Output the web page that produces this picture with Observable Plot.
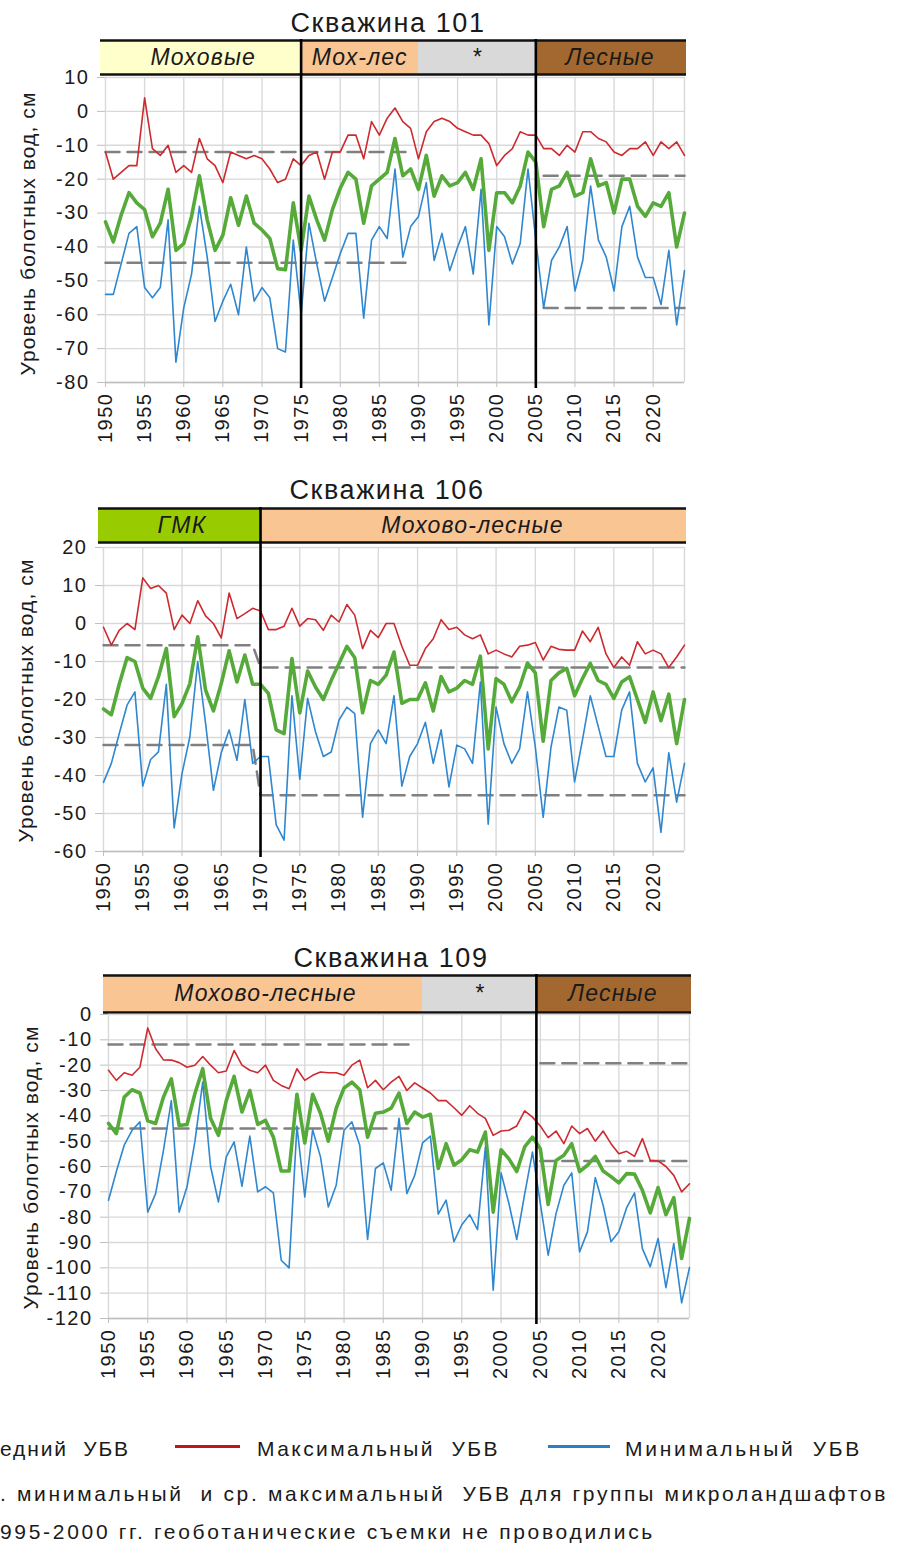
<!DOCTYPE html>
<html><head><meta charset="utf-8">
<script src="https://cdn.jsdelivr.net/npm/d3@7"></script>
<script src="https://cdn.jsdelivr.net/npm/@observablehq/plot@0.6"></script>
<style>
html,body{margin:0;padding:0;background:#fff;}
#root{position:relative;width:897px;height:1555px;overflow:hidden;background:#fff;font-family:"Liberation Sans",Arial,sans-serif;color:#1a1a1a;}
.txt{position:absolute;white-space:pre;display:inline-block;}
.sw{position:absolute;height:3px;}
</style></head><body><div id="root"></div>
<script>
// ---------------- DATA ----------------
const years = [1950,1951,1952,1953,1954,1955,1956,1957,1958,1959,
  1960,1961,1962,1963,1964,1965,1966,1967,1968,1969,
  1970,1971,1972,1973,1974,1975,1976,1977,1978,1979,
  1980,1981,1982,1983,1984,1985,1986,1987,1988,1989,
  1990,1991,1992,1993,1994,1995,1996,1997,1998,1999,
  2000,2001,2002,2003,2004,2005,2006,2007,2008,2009,
  2010,2011,2012,2013,2014,2015,2016,2017,2018,2019,
  2020,2021,2022,2023,2024];
const xTicks = [1950,1955,1960,1965,1970,1975,1980,1985,1990,1995,2000,2005,2010,2015,2020];

// Скважина 101
const w101Max = [-12,-20,-18,-16,-16,4,-11,-13,-10,-18,
  -16,-18,-8,-14,-16,-21,-12,-13,-14,-13,
  -14,-17,-21,-20,-14,-16,-13,-12,-20,-12,
  -12,-7,-7,-14,-3,-7,-2,1,-3,-5,
  -14,-6,-3,-2,-3,-5,-6,-7,-7,-9.5,
  -16,-13,-11,-6,-7,-7,-11,-11,-13,-10,
  -12,-6,-6,-8,-9,-12,-13,-11,-11,-9,
  -13,-9,-11,-9,-13];
const w101Mean = [-32.6,-38.5,-30.6,-24,-27,-29,-37,-33,-23,-41,
  -39,-31,-19,-32,-41,-36.5,-25.5,-33.6,-25,-33,
  -35,-37.5,-46.4,-46.7,-27,-41,-25,-32,-38,-29,
  -22.7,-18,-20,-33,-22,-20,-18,-8,-19,-17,
  -23,-13,-25,-19,-22,-21,-18,-23,-14,-41,
  -24,-24,-27,-22,-12,-15,-34,-23,-22,-18,
  -25,-24,-14,-22,-21,-30,-20,-20,-28,-31,
  -27,-28,-24,-40,-30];
const w101Min = [-54,-54,-45,-36,-34,-52,-55,-52,-32,-74,
  -58,-48,-28,-43,-62,-56,-51,-60,-40,-56,
  -52,-55,-70,-71,-38,-60,-33,-45,-56,-49,
  -42,-36,-36,-61,-38,-34,-37.5,-17,-43,-34,
  -31,-21,-44,-36,-47,-40,-34,-48,-23,-63,
  -34,-37,-45,-39,-17,-38,-58,-44,-40,-34,
  -53,-44,-22,-38,-43,-53,-34,-28,-43,-49,
  -49,-57,-41,-63,-47];
const w101Ticks = [10,0,-10,-20,-30,-40,-50,-60,-70,-80];
const w101BandLabels = ["Моховые","Мох-лес","*","Лесные"];
const w101BandStart = [1950,1975,1990,2005];
const w101BandEnd = [1975,1990,2005,2024];
const w101Dividers = [1975,2005];
const w101GroupStart = [1950,2006];
const w101GroupEnd = [1989,2024];
const w101GroupMax = [-12,-19];
const w101GroupMin = [-44.7,-58];

// Скважина 106
const w106Max = [-1,-5.7,-1.8,0,-1.6,12,9.2,10,8,-1.6,
  2.2,0,6,2,0,-3.8,8,1.3,2.6,4,
  3.3,-1.6,-1.6,-0.7,4,-0.7,1.3,1,-1.8,2.2,
  0.4,5,2.2,-6.6,-1.8,-3.7,0,0,-6,-11,
  -11,-6.6,-4,1,-1.6,-1,-3,-4,-3,-8,
  -7,-8,-8.8,-6,-5.7,-5,-9.6,-6,-6.8,-7,
  -7,-2,-4.8,-1,-8,-11.6,-8.8,-11,-4.8,-8,
  -7,-8,-11.6,-8.8,-5.7];
const w106Mean = [-22.5,-24,-16,-9,-10,-17,-19.7,-14,-6.6,-24.5,
  -21,-15.8,-3.5,-17.5,-23,-15.8,-7.2,-15.4,-8.3,-16,
  -16,-18.4,-28,-29,-9.2,-23.5,-12.5,-16.7,-20,-15,
  -10.5,-6,-9,-23.5,-15,-16,-13.6,-7.5,-21,-20,
  -20,-15.6,-23,-14,-18,-17,-15,-16,-8.6,-33,
  -14.5,-16,-20.6,-16.7,-10.4,-13,-31,-15,-13,-11.8,
  -19,-14.5,-10.5,-15,-16,-19.7,-15.4,-14,-20,-26,
  -18,-25.6,-18.6,-31.6,-20];
const w106Min = [-41.8,-36.8,-29,-21.5,-18,-42.8,-35.8,-33.8,-16,-53.8,
  -39.5,-29.8,-10,-26.3,-43.9,-34,-28,-36,-20,-36.8,
  -35,-35,-53,-57,-19,-41,-19.7,-28.5,-35,-33.8,
  -25.4,-22,-23.7,-51,-31.6,-28,-31.6,-19,-42.8,-35,
  -31.6,-26,-36.8,-28,-43,-32,-33,-36.8,-15.4,-52.8,
  -22,-31.6,-36.8,-33,-18,-32.5,-51,-32.5,-22,-22.8,
  -41.7,-30.7,-19,-27,-35,-35,-22.8,-18,-36.8,-41.7,
  -38,-55,-34,-47,-36.8];
const w106Ticks = [20,10,0,-10,-20,-30,-40,-50,-60];
const w106BandLabels = ["ГМК","Мохово-лесные"];
const w106BandStart = [1950,1970];
const w106BandEnd = [1970,2024];
const w106Dividers = [1970];
const w106GroupStart = [1950,1970];
const w106GroupEnd = [1969,2024];
const w106GroupMax = [-5.7,-11.6];
const w106GroupMin = [-32,-45.2];

// Скважина 109
const w109Max = [-22,-26,-23,-24,-20.8,-5.3,-13.5,-17.9,-18,-19,
  -20.8,-20,-16.6,-20,-23,-22.3,-14.2,-20,-22,-23,
  -20,-26,-28,-29.3,-21.4,-26,-24,-22.7,-23,-23,
  -24,-20,-18,-28.9,-26,-29.7,-26.7,-24.4,-30,-27,
  -29,-31,-34,-34,-36.8,-39.8,-36,-39,-41,-47.7,
  -46,-45.7,-44,-38,-40.5,-44,-48.6,-46,-51,-44,
  -47,-45,-50,-46,-51,-55,-54,-56,-49,-57.6,
  -57.8,-60,-63.5,-70,-66.8];
const w109Mean = [-43,-47,-32.6,-29.7,-31,-42,-43,-32.6,-25.4,-43.8,
  -43.4,-31.3,-21.4,-41,-47.7,-34,-24.4,-38.5,-30,-43.4,
  -41.8,-48.4,-61.8,-61.8,-31.5,-50.7,-31.5,-39,-50,-37,
  -29,-26.7,-29.7,-48.4,-39,-38.5,-37,-31,-43,-38.5,
  -40.5,-39.4,-60.8,-51,-59.5,-57.3,-53.4,-54.3,-46.4,-78,
  -53.4,-57,-62,-52.3,-48.4,-53,-75,-57.6,-55.6,-51,
  -62,-59.5,-56,-61.8,-64,-66.5,-62.8,-63,-69.4,-78.3,
  -68.3,-79,-72.3,-96.3,-80.5];
const w109Min = [-73.3,-62,-51.6,-45.7,-42.4,-78,-70.7,-53.6,-34,-78,
  -68,-50.3,-26.7,-60,-74,-56.2,-50.3,-67.8,-48,-70,
  -68,-70.4,-97,-100,-44,-72,-45.5,-56.2,-76,-67.4,
  -45.7,-42.4,-51.6,-88.8,-60.8,-58.6,-69.4,-41,-70.7,-63.5,
  -50.7,-48,-78.8,-73.3,-89.7,-83,-79,-84.9,-52.3,-108.8,
  -62.5,-74.6,-88.8,-71,-54.3,-74.6,-95,-78.6,-67.4,-62.5,
  -93.7,-85.8,-64.4,-75.3,-89.7,-85.8,-76.2,-70.4,-92.4,-99.6,
  -88.4,-107.8,-90.4,-113.8,-99.9];
const w109Ticks = [0,-10,-20,-30,-40,-50,-60,-70,-80,-90,-100,-110,-120];
const w109BandLabels = ["Мохово-лесные","*","Лесные"];
const w109BandStart = [1950,1990,2004.5];
const w109BandEnd = [1990,2004.5,2024];
const w109Dividers = [2004.5];
const w109GroupStart = [1950,2005];
const w109GroupEnd = [1989,2024];
const w109GroupMax = [-11.8,-19.2];
const w109GroupMin = [-45,-57.8];

const titles = ["Скважина 101","Скважина 106","Скважина 109"];
const yAxisLabel = "Уровень болотных вод, см";
const legendRow1 = ["едний  УБВ","Максимальный  УБВ","Минимальный  УБВ"];
const legendRow2 = ". минимальный  и ср. максимальный  УБВ для группы микроландшафтов";
const legendRow3 = "995-2000 гг. геоботанические съемки не проводились";

// ---------------- STYLE / LAYOUT ----------------
const bandColors = {"Моховые":"#FFFFCC","Мох-лес":"#F9C593","Мохово-лесные":"#F9C593","*":"#D9D9D9","Лесные":"#A2682F","ГМК":"#99CC00"};
const FONT = '"Liberation Sans", Arial, sans-serif';
const root = document.getElementById("root");

function placeText(text, {x, baseline, size, width, anchor = "start", italic = false}) {
  const el = document.createElement("div");
  el.className = "txt";
  el.textContent = text;
  el.style.fontSize = size + "px";
  el.style.lineHeight = size + "px";
  if (italic) el.style.fontStyle = "italic";
  root.appendChild(el);
  if (width) {
    const w = el.getBoundingClientRect().width;
    el.style.letterSpacing = ((width - w) / [...text].length) + "px";
  }
  const w2 = el.getBoundingClientRect().width;
  el.style.left = (anchor === "middle" ? x - w2 / 2 : x) + "px";
  el.style.top = (baseline - 0.8465 * size) + "px";
  return el;
}
function placeVertical(text, {cx, cy, size, length}) {
  const el = document.createElement("div");
  el.className = "txt";
  el.textContent = text;
  el.style.fontSize = size + "px";
  el.style.lineHeight = size + "px";
  root.appendChild(el);
  const w = el.getBoundingClientRect().width;
  el.style.letterSpacing = ((length - w) / [...text].length) + "px";
  const r = el.getBoundingClientRect();
  el.style.left = (cx - r.width / 2) + "px";
  el.style.top = (cy - r.height / 2) + "px";
  el.style.transform = "rotate(-90deg)";
}
function swatch(x1, x2, y, color) {
  const d = document.createElement("div");
  d.className = "sw";
  d.style.left = x1 + "px"; d.style.width = (x2 - x1) + "px";
  d.style.top = (y - 1.5) + "px"; d.style.background = color;
  root.appendChild(d);
}
function position(svg, top, extra) {
  svg.style.position = "absolute";
  svg.style.left = "0px";
  svg.style.top = top + "px";
  svg.style.overflow = "visible";
  svg.style.background = "transparent";
  svg.style.fontFamily = FONT;
  Object.assign(svg.style, extra || {});
  root.appendChild(svg);
}

const panels = [
  {title: titles[0], titleX: 388, titleBase: 33, bandTop: 40, bandBot: 74, plotTop: 77, plotBot: 382, left: 105, right: 684,
   yDomain: [-80, 10], yTicks: w101Ticks, ylabX: 27, ylabY: 233,
   max: w101Max, mean: w101Mean, min: w101Min,
   bandLabels: w101BandLabels, bandStart: w101BandStart, bandEnd: w101BandEnd, dividers: w101Dividers,
   gStart: w101GroupStart, gEnd: w101GroupEnd, gMax: w101GroupMax, gMin: w101GroupMin, connected: false},
  {title: titles[1], titleX: 387, titleBase: 500, bandTop: 508, bandBot: 542, plotTop: 547, plotBot: 851, left: 103, right: 684,
   yDomain: [-60, 20], yTicks: w106Ticks, ylabX: 25, ylabY: 700,
   max: w106Max, mean: w106Mean, min: w106Min,
   bandLabels: w106BandLabels, bandStart: w106BandStart, bandEnd: w106BandEnd, dividers: w106Dividers,
   gStart: w106GroupStart, gEnd: w106GroupEnd, gMax: w106GroupMax, gMin: w106GroupMin, connected: true},
  {title: titles[2], titleX: 391, titleBase: 968, bandTop: 975, bandBot: 1012, plotTop: 1014, plotBot: 1318, left: 108, right: 689,
   yDomain: [-120, 0], yTicks: w109Ticks, ylabX: 30, ylabY: 1167,
   max: w109Max, mean: w109Mean, min: w109Min,
   bandLabels: w109BandLabels, bandStart: w109BandStart, bandEnd: w109BandEnd, dividers: w109Dividers,
   gStart: w109GroupStart, gEnd: w109GroupEnd, gMax: w109GroupMax, gMin: w109GroupMin, connected: false}
];

for (const p of panels) {
  const W = 897;
  // title & y label
  placeText(p.title, {x: p.titleX, baseline: p.titleBase, size: 27, width: 195, anchor: "middle"});
  placeVertical(yAxisLabel, {cx: p.ylabX, cy: p.ylabY, size: 21, length: 284});

  // header band
  const bands = p.bandLabels.map((label, i) => ({label, from: p.bandStart[i], to: p.bandEnd[i]}));
  const header = Plot.plot({
    width: W, height: p.bandBot - p.bandTop + 2,
    marginLeft: p.left, marginRight: W - p.right, marginTop: 1, marginBottom: 1,
    x: {domain: [1950, 2024], axis: null}, y: {domain: [0, 1], axis: null},
    color: {type: "identity"},
    marks: [
      Plot.rect(bands.slice(0, 1), {x1: "from", x2: "to", y1: 0, y2: 1, fill: d => bandColors[d.label], insetLeft: -5}),
      Plot.rect(bands.slice(1), {x1: "from", x2: "to", y1: 0, y2: 1, fill: d => bandColors[d.label], insetRight: -2}),
      Plot.ruleY([0, 1], {x1: 1950, x2: 2024, stroke: "#111", strokeWidth: 2.6, insetLeft: -5, insetRight: -2}),
      Plot.ruleX(p.dividers, {stroke: "#000", strokeWidth: 2.6, insetTop: -1, insetBottom: -1}),
      Plot.text(bands, {x: d => (d.from + d.to) / 2, y: 0.5, text: "label", fontSize: 23, fontStyle: "italic", fill: "#1a1a1a"})
    ]
  });
  position(header, p.bandTop - 1, {letterSpacing: "1.2px"});

  // main chart
  const rows = years.map((year, i) => ({year, max: p.max[i], mean: p.mean[i], min: p.min[i]}));
  const dashes = [];
  p.gStart.forEach((s, i) => {
    const kMax = p.connected ? "max" : "max" + i, kMin = p.connected ? "min" : "min" + i;
    dashes.push({x: s, y: p.gMax[i], k: kMax}, {x: p.gEnd[i], y: p.gMax[i], k: kMax});
    dashes.push({x: s, y: p.gMin[i], k: kMin}, {x: p.gEnd[i], y: p.gMin[i], k: kMin});
  });
  dashes.sort((a, b) => a.k < b.k ? -1 : a.k > b.k ? 1 : a.x - b.x);
  const svgTop = p.bandBot;
  const mt = p.plotTop - svgTop;
  const main = Plot.plot({
    width: W, height: (p.plotBot - svgTop) + 80,
    marginLeft: p.left, marginRight: W - p.right, marginTop: mt, marginBottom: 80,
    x: {domain: [1950, 2024]}, y: {domain: p.yDomain},
    marks: [
      Plot.ruleY(p.yTicks, {stroke: "#d9d9d9", strokeWidth: 1.4}),
      Plot.ruleX(xTicks.concat([2024]), {stroke: "#d9d9d9", strokeWidth: 1.4}),
      Plot.ruleY([p.yDomain[0]], {stroke: "#bfbfbf", strokeWidth: 1.4}),
      Plot.axisY(p.yTicks, {tickSize: 8, tickPadding: 8, stroke: "#bfbfbf", fill: "#1a1a1a", tickFormat: d => String(d), label: null}),
      Plot.axisX(xTicks, {tickSize: 5, tickPadding: 5, tickRotate: -90, stroke: "#bfbfbf", fill: "#1a1a1a", tickFormat: d => String(d), label: null}),
      Plot.line(dashes, {x: "x", y: "y", z: "k", stroke: "#808080", strokeWidth: 2.5, strokeDasharray: "14,8"}),
      Plot.line(rows, {x: "year", y: "max", stroke: "#cc2a2f", strokeWidth: 1.6}),
      Plot.line(rows, {x: "year", y: "mean", stroke: "#55aa3a", strokeWidth: 3.6}),
      Plot.line(rows, {x: "year", y: "min", stroke: "#2f87cf", strokeWidth: 1.6}),
      Plot.ruleX(p.dividers, {stroke: "#000", strokeWidth: 2.6, insetTop: -mt - 1, insetBottom: -6})
    ]
  });
  position(main, svgTop, {fontSize: "20px", letterSpacing: "1.5px"});
}

// ---------------- LEGEND ----------------
placeText(legendRow1[0], {x: 0, baseline: 1456, size: 21, width: 130});
swatch(175, 240, 1446, "#c0141e");
placeText(legendRow1[1], {x: 257, baseline: 1456, size: 21, width: 243});
swatch(548, 610, 1446, "#2a80c8");
placeText(legendRow1[2], {x: 625, baseline: 1456, size: 21, width: 237});
placeText(legendRow2, {x: 0, baseline: 1501, size: 21, width: 888});
placeText(legendRow3, {x: 0, baseline: 1539, size: 21, width: 655});
</script></body></html>
